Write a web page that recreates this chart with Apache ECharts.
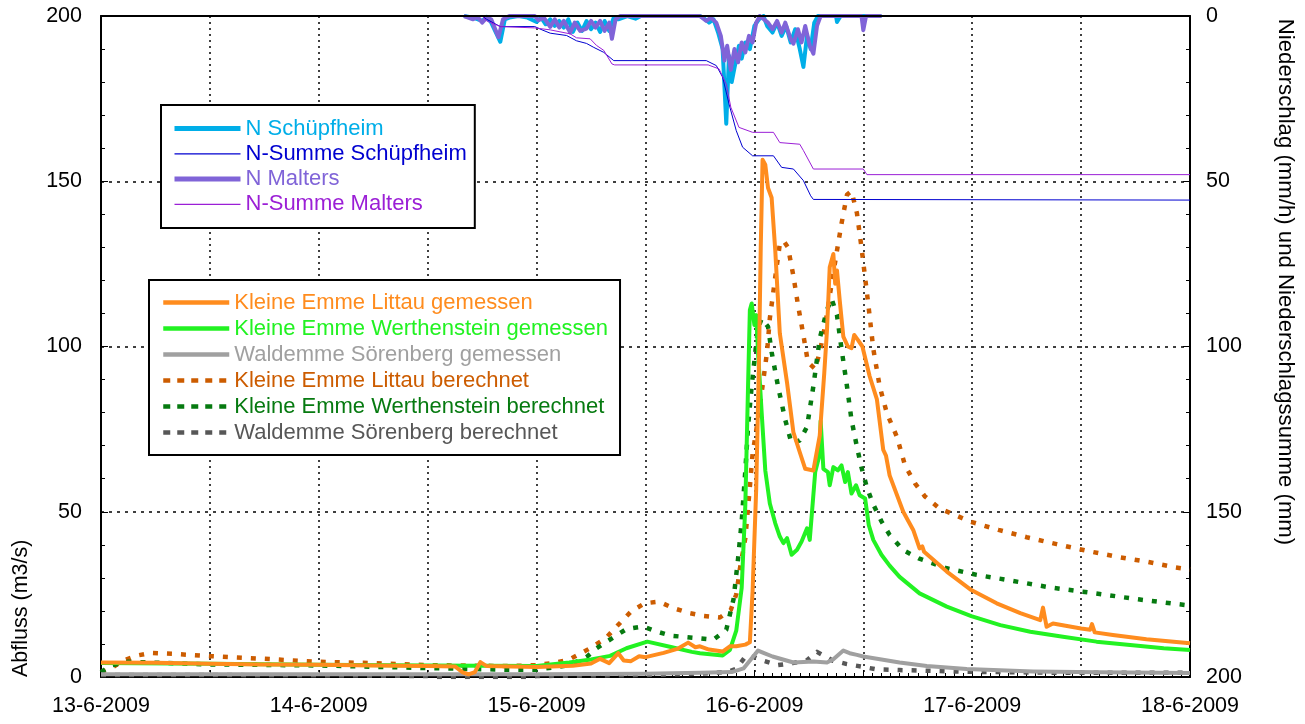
<!DOCTYPE html>
<html>
<head>
<meta charset="utf-8">
<script src="https://cdn.jsdelivr.net/npm/echarts@6/dist/echarts.min.js"></script>
<style>html,body{margin:0;padding:0;background:#fff}#c{width:1305px;height:724px}</style>
</head>
<body>
<div id="c"></div>
<script>
// x in hours since 13-6-2009 00:00
const xLabels = ['13-6-2009','14-6-2009','15-6-2009','16-6-2009','17-6-2009','18-6-2009'];
const leftTicks = ['0','50','100','150','200'];

const littauGem = [[0,4.4],[6,4.3],[12,4.0],[18,3.8],[24,3.7],[30,3.5],[36,3.3],[39,3.2],[39.8,1.5],[40.5,0.8],[41.2,1.5],[41.8,4.5],[42.5,3.3],[48,3.0],[52,3.4],[54,4.1],[55,5.5],[56,4.2],[57,7.2],[57.6,5.0],[58.4,4.8],[59.3,6.3],[60,6.0],[62,7.3],[63.5,8.5],[64.7,10.4],[65.5,9.0],[66,9.3],[67,8.3],[68.5,7.7],[69.3,9.3],[70,9.3],[71,9.8],[71.5,10.5],[71.8,26],[72.2,57],[72.5,95],[72.7,130],[72.9,156.5],[73.2,155],[73.5,148],[73.9,145],[74.3,129],[74.8,104],[75.6,89],[76.3,74],[77.0,68],[77.6,63],[78.5,62.5],[79.2,73],[79.7,92],[80.0,105],[80.3,124],[80.7,128],[80.9,119],[81.1,123],[81.4,114],[81.8,103],[82.3,100],[82.7,99.5],[83.0,103.5],[83.4,102],[83.9,100],[84.7,91],[85.5,84],[86.2,68.7],[86.5,67],[86.9,61],[88.4,50],[89.5,44.5],[90.2,38.9],[90.5,39.5],[90.7,37.9],[93.2,31.9],[95.9,26.3],[98.7,22.3],[101.3,19.3],[103.5,17.2],[103.8,21],[104.2,15.2],[104.9,16.2],[108,14.7],[109,14.3],[109.2,16],[109.5,13.5],[111.5,12.7],[115.2,11.4],[120,10.2]];

const werthGem = [[0,4.2],[12,4.0],[24,3.7],[36,3.5],[48,3.3],[51.6,4.4],[54,5.3],[56.1,6.4],[57.9,8.7],[60.2,10.7],[62.8,9.1],[65.1,7.6],[66,7.2],[68.5,6.5],[69.3,8.2],[70.0,14],[70.6,27],[71.0,52],[71.3,88],[71.5,111],[71.7,113],[72.0,106.5],[72.2,109.5],[72.4,98.3],[72.8,80],[73.2,62.5],[73.7,52.5],[74.3,46.5],[74.8,42.5],[75.2,40.5],[75.6,42],[76.1,37],[76.7,38.5],[77.2,41],[77.8,45],[78.1,41.5],[78.7,62],[79.2,67.5],[79.3,77.5],[79.6,63],[80.1,62],[80.3,58],[80.7,63.5],[81.2,62.5],[81.6,64],[82.0,59],[82.3,62],[82.7,55.5],[83.2,58],[83.6,55],[84.2,54],[84.6,46],[85.1,41.5],[86.0,37],[86.9,33.7],[88,30.3],[90.2,25.3],[93.2,21.3],[95.9,18.4],[99.1,15.7],[102.4,13.7],[106,12.2],[109.7,10.7],[113.4,9.7],[117.1,8.7],[120,8.2]];

const soerenGem = [[0,0.8],[24,0.8],[48,0.8],[60,1.0],[66,1.3],[69.5,1.5],[70.8,2.6],[71.8,6],[72.4,8.0],[73,7.3],[74,6.2],[76.3,4.4],[78.5,4.7],[80,4.4],[80.7,5.4],[81.8,8.0],[82.5,7.2],[83.3,6.7],[84,6.2],[88,4.4],[91,3.3],[95.4,2.4],[102.7,1.7],[110,1.4],[120,1.2]];

const littauBer = [[0,1.5],[1,2.5],[2.5,5],[4,6.5],[5.5,7.3],[8,7],[12,6.3],[18,5.5],[24,4.6],[30,4.2],[36,3.6],[42,3.4],[45,3.3],[48,3.6],[50,4.3],[51.6,5.3],[53.9,8.7],[55.6,11.7],[57,15.8],[58.4,19.8],[59.9,22.3],[61.5,22.8],[63.1,20.8],[64.9,19.3],[66.4,18.5],[68.2,18],[69.4,20.3],[70,25],[70.4,32.7],[71.0,42],[71.5,57.5],[71.8,67.5],[72.4,78],[72.8,86],[73.4,98.5],[73.7,108.5],[74.3,121],[74.8,131],[75.2,132],[75.7,130],[76.3,121.3],[76.8,112.6],[77.4,103.4],[77.9,95.2],[78.7,93.2],[79.2,98.3],[79.8,106.5],[80.5,118.8],[81.1,129],[81.6,137.2],[82.2,145.9],[82.7,147],[83.3,140.3],[83.8,130],[84.2,120.8],[84.6,111.6],[85.1,99.3],[85.8,88],[86.6,79.8],[87.7,72.7],[88.6,64],[89.7,58.6],[90.8,54.6],[92.4,51],[94.1,49],[95.8,47],[98.9,44.5],[102,42.3],[105.3,40.2],[108.6,38.2],[111.9,36.4],[115.2,34.9],[118.3,33.2],[120,32.5]];

const werthBer = [[0,1.4],[1,3.4],[3,4.6],[12,3.8],[24,3.5],[36,2.7],[45,2.2],[48,2.2],[51.6,3.6],[53.5,6.0],[54.6,8.7],[56.3,11.7],[57.9,14.5],[59.7,15.3],[61.3,13.7],[62.8,12.5],[66,11.7],[67.5,11.3],[68.9,14.3],[69.7,23.5],[70.2,35.8],[70.6,47.1],[71.0,62.4],[71.3,75.7],[71.7,88],[72.1,98.3],[72.4,105.4],[72.8,108.5],[73.5,106],[73.9,98.3],[74.6,88],[75.4,77.8],[76.1,70.6],[77,71.6],[77.8,75.7],[78.5,88],[79.2,102.4],[80,111.1],[80.5,114.5],[81.1,109.5],[81.6,99.3],[82.2,88],[82.7,77.8],[83.3,69.6],[83.8,63.4],[84.4,57.3],[85.1,52.2],[86,47.1],[86.9,43],[88.4,38.4],[90.1,35.9],[93.2,32.9],[96.5,30.9],[99.8,29.4],[104.6,27.1],[109.3,25.4],[114.3,23.5],[120,21.6]];

const soerenBer = [[0,0.6],[12,0.6],[24,0.5],[36,0.3],[37,0],[47,0],[48,0.3],[60,0.6],[66,1.0],[69,1.5],[70,2.5],[71.1,6.5],[72,6],[72.8,5.1],[74.6,3.6],[76.2,4.2],[77.8,5.1],[78.9,7.6],[80.6,5.0],[82.2,3.9],[83.9,3.1],[85.5,2.3],[88,2.1],[95,1.6],[105,1.3],[120,1.3]];

const nSchuepf = [[40,0],[41,0.5],[42,1.5],[42.5,0.3],[43,2],[44,7.8],[44.5,1],[45,0.5],[46,0],[47,0.5],[48,1.8],[48.5,0.5],[49,2.5],[49.5,1],[50,3],[50.5,1.5],[51,3.5],[51.5,1],[52,4.8],[52.5,2],[53,4.5],[53.5,1.5],[54,4],[54.5,2],[55,4.8],[55.5,1.5],[56,4.5],[56.5,0.5],[57,1],[58,0],[58.9,0.8],[59.5,0],[66,0],[66.5,0.8],[67,2],[67.5,1],[68,5],[68.5,10],[68.9,32.6],[69.2,12],[69.5,20],[70,13],[70.3,9],[70.6,12.9],[71,8],[71.5,10],[72,3],[72.5,1],[73,0],[73.4,3],[74,5],[74.5,2],[75,6],[75.5,3],[76,8],[76.5,4],[77,10],[77.4,15.4],[77.8,6],[78.2,10],[78.6,2],[79,0],[81,0],[81.1,1.8],[81.5,0],[86,0]];

const nMalters = [[40,0],[41,1],[41.5,0.3],[42,2],[42.5,0.5],[43,1],[43.8,6.4],[44.3,1],[45,0],[47.8,0],[48.2,1.3],[48.8,0.5],[49.5,3.3],[50,1],[50.5,3.5],[51,1.5],[51.7,5],[52.2,2],[52.8,4.5],[53.5,3.8],[54,1.5],[54.5,3.5],[55,1.5],[55.5,4.5],[56,2],[56.3,6.9],[56.7,1],[57.2,0],[66,0],[66.7,1.5],[67.2,0.5],[67.8,2],[68.3,6],[68.7,13.5],[69,9],[69.4,16.3],[69.8,10],[70.2,14],[70.6,8],[71,11],[71.4,6],[71.8,8],[72.2,2],[72.6,0],[73.5,2],[74,4],[74.5,1.5],[75,5],[75.4,2],[76,7],[76.3,8.4],[76.8,4],[77.2,8],[77.6,3],[78.1,9],[78.5,11.4],[78.9,3],[79.3,0],[83.8,0],[84,4.3],[84.3,0],[86,0]];

const sumSchuepf = [[42,0],[42.5,1],[44,3.2],[47.8,3.2],[48.6,4.2],[49.5,5.2],[51.3,5.9],[52.4,7.5],[53.5,8.3],[54.3,9.5],[55.4,11],[56.5,13.5],[66.7,13.5],[67.8,15],[68.5,18.5],[69.2,26.6],[70,34.7],[70.7,39.7],[71.8,42.3],[74.1,42.3],[75,45.8],[76.3,46.3],[77.4,49.8],[78.2,54.4],[78.5,55.5],[120,55.7]];

const sumMalters = [[42,0],[42.5,1.5],[44,3.2],[47.8,3.6],[49.5,4.2],[51.7,5.4],[52.4,6.6],[53.9,6.9],[54.6,8.9],[55.4,10.4],[56.3,14.5],[56.6,14.8],[66.9,14.8],[68.1,16],[68.9,20.6],[69.4,27.6],[70.3,33.7],[71.8,35.2],[74.1,35.2],[74.8,38.3],[77,38.8],[77.4,40.7],[78.5,46.3],[84,46.3],[84.4,48],[120,48]];

const FONT = '"Liberation Sans", Arial, sans-serif';
const C = {
  littauGem:'#ff8c1e', werthGem:'#22f222', soerenGem:'#a0a0a0',
  littauBer:'#cc5c00', werthBer:'#067a10', soerenBer:'#575757',
  nSchuepf:'#00aee8', sumSchuepf:'#0000d0', nMalters:'#8064d8', sumMalters:'#9b1fd6'
};
const DOT = [5, 9];

function mk(name, data, color, width, dash, yIdx, z) {
  return {
    name: name, type: 'line', data: data, yAxisIndex: yIdx || 0, xAxisIndex: 0,
    symbol: 'none', showSymbol: false, smooth: false, z: z || 2,
    lineStyle: { color: color, width: width, type: dash || 'solid', cap: 'butt', join: 'round' },
    itemStyle: { color: color },
    emphasis: { disabled: true }
  };
}
function li(name, color, width, dash) {
  return { name: name, textStyle: { color: color },
    lineStyle: { color: color, width: width, type: dash || 'solid', cap: 'butt' },
    itemStyle: { opacity: 0 } };
}

const chart = echarts.init(document.getElementById('c'), null, { renderer: 'canvas' });
chart.setOption({
  animation: false,
  backgroundColor: '#fff',
  grid: { left: 101, right: 115, top: 16, bottom: 47, show: false },
  textStyle: { fontFamily: FONT },
  xAxis: [{
    type: 'value', min: 0, max: 120, interval: 12, position: 'bottom',
    axisLine: { show: true, onZero: false, lineStyle: { color: '#000', width: 2 } },
    axisTick: { show: true, inside: true, length: 7, lineStyle: { color: '#000', width: 1 } },
    minorTick: { show: true, splitNumber: 12, length: 4, lineStyle: { color: '#000', width: 1 } },
    axisLabel: { color: '#000', fontSize: 21.5, fontFamily: FONT, margin: 18,
      formatter: function (v) { return (v % 24 === 0) ? xLabels[v / 24] : ''; } },
    splitLine: { show: true, lineStyle: { color: '#000', width: 1.5, type: [2, 4] } }
  }, {
    type: 'value', min: 0, max: 120, position: 'top', z: 10,
    axisLine: { show: true, onZero: false, lineStyle: { color: '#000', width: 2 } },
    axisTick: { show: false }, axisLabel: { show: false }, splitLine: { show: false }
  }],
  yAxis: [{
    type: 'value', min: 0, max: 200, interval: 50, position: 'left',
    axisLine: { show: true, onZero: false, lineStyle: { color: '#000', width: 2 } },
    axisTick: { show: true, inside: true, length: 7, lineStyle: { color: '#000' } },
    minorTick: { show: true, splitNumber: 5, length: 4, lineStyle: { color: '#000' } },
    axisLabel: { color: '#000', fontSize: 21.5, fontFamily: FONT, margin: 19,
      formatter: function (v) { return leftTicks[v / 50]; } },
    splitLine: { show: true, lineStyle: { color: '#000', width: 1.5, type: [3, 5] } }
  }, {
    type: 'value', min: 0, max: 200, interval: 50, position: 'right', inverse: true,
    axisLine: { show: true, onZero: false, lineStyle: { color: '#000', width: 2 } },
    axisTick: { show: true, inside: true, length: 7, lineStyle: { color: '#000' } },
    minorTick: { show: true, splitNumber: 5, length: 4, lineStyle: { color: '#000' } },
    axisLabel: { color: '#000', fontSize: 21.5, fontFamily: FONT, margin: 16 },
    splitLine: { show: false }
  }],
  legend: [{
    orient: 'vertical', left: 161, top: 105, padding: [12.5, 8, 12.5, 11],
    itemGap: 3.3, itemWidth: 66, itemHeight: 14, selectedMode: false,
    borderColor: '#000', borderWidth: 2, backgroundColor: '#fff', borderRadius: 0,
    itemStyle: { opacity: 0 },
    textStyle: { fontSize: 22, fontFamily: FONT, lineHeight: 22 },
    data: [
      li('N Schüpfheim', C.nSchuepf, 5),
      li('N-Summe Schüpfheim', C.sumSchuepf, 1.2),
      li('N Malters', C.nMalters, 5),
      li('N-Summe Malters', C.sumMalters, 1.2)
    ]
  }, {
    orient: 'vertical', left: 149, top: 280, padding: [11.5, 12, 11.5, 12],
    itemGap: 4, itemWidth: 66, itemHeight: 14, selectedMode: false,
    borderColor: '#000', borderWidth: 2, backgroundColor: '#fff', borderRadius: 0,
    itemStyle: { opacity: 0 },
    textStyle: { fontSize: 22, fontFamily: FONT, lineHeight: 22 },
    data: [
      li('Kleine Emme Littau gemessen', C.littauGem, 4.5),
      li('Kleine Emme Werthenstein gemessen', C.werthGem, 4.5),
      li('Waldemme Sörenberg gemessen', C.soerenGem, 4.5),
      li('Kleine Emme Littau berechnet', C.littauBer, 4.5, [7, 7]),
      li('Kleine Emme Werthenstein berechnet', C.werthBer, 4.5, [7, 7]),
      li('Waldemme Sörenberg berechnet', C.soerenBer, 4.5, [7, 7])
    ]
  }],
  graphic: [{
    type: 'text', x: 21, y: 677, rotation: Math.PI / 2,
    style: { text: 'Abfluss (m3/s)', fill: '#000', font: '21.5px ' + FONT,
      textAlign: 'left', textVerticalAlign: 'middle', align: 'left', verticalAlign: 'middle' }
  }, {
    type: 'text', x: 1285, y: 282, rotation: -Math.PI / 2,
    style: { text: 'Niederschlag (mm/h) und Niederschlagssumme (mm)', fill: '#000', font: '22.2px ' + FONT,
      textAlign: 'center', textVerticalAlign: 'middle', align: 'center', verticalAlign: 'middle' }
  }],
  series: [
    mk('Kleine Emme Littau berechnet', littauBer, C.littauBer, 4.5, DOT, 0, 2),
    mk('Kleine Emme Werthenstein berechnet', werthBer, C.werthBer, 4.5, DOT, 0, 2),
    mk('Waldemme Sörenberg berechnet', soerenBer, C.soerenBer, 4.5, DOT, 0, 2),
    mk('Waldemme Sörenberg gemessen', soerenGem, C.soerenGem, 4, null, 0, 3),
    mk('Kleine Emme Werthenstein gemessen', werthGem, C.werthGem, 4, null, 0, 3),
    mk('Kleine Emme Littau gemessen', littauGem, C.littauGem, 4, null, 0, 3),
    mk('N Schüpfheim', nSchuepf, C.nSchuepf, 4, null, 1, 4),
    mk('N Malters', nMalters, C.nMalters, 4, null, 1, 4),
    mk('N-Summe Schüpfheim', sumSchuepf, C.sumSchuepf, 1, null, 1, 5),
    mk('N-Summe Malters', sumMalters, C.sumMalters, 1, null, 1, 5)
  ]
});
</script>
</body>
</html>
